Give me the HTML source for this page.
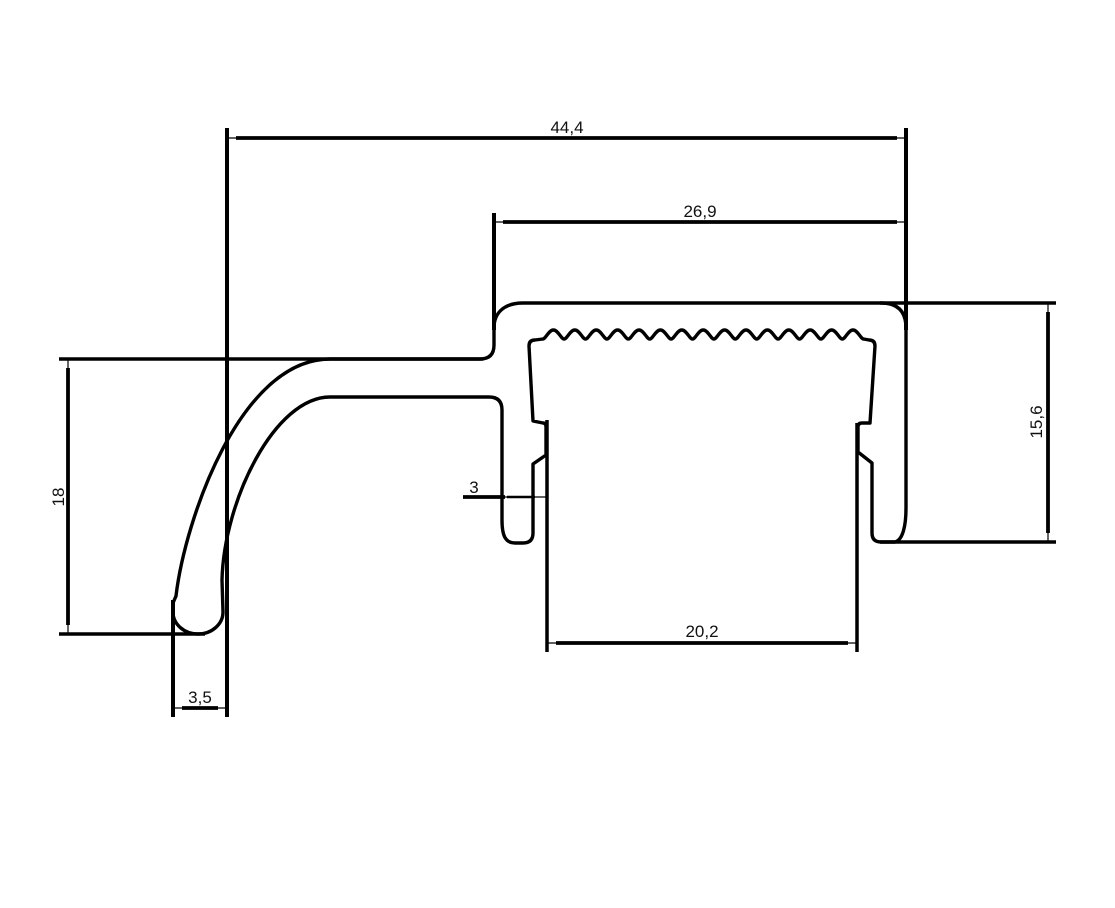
<!DOCTYPE html>
<html><head><meta charset="utf-8"><style>
html,body{margin:0;padding:0;background:#fff;}
svg{display:block;}
text{font-family:"Liberation Sans",Arial,sans-serif;font-size:17px;fill:#111;}
</style></head><body>
<svg width="1115" height="908" viewBox="0 0 1115 908" xmlns="http://www.w3.org/2000/svg">
<rect width="1115" height="908" fill="#fff"/>
<g stroke="#000" fill="none" stroke-linecap="butt">
<!-- extension lines -->
<line x1="227" y1="128" x2="227" y2="717" stroke-width="4"/>
<line x1="906" y1="128" x2="906" y2="330" stroke-width="4"/>
<line x1="494" y1="213" x2="494" y2="330" stroke-width="4"/>
<line x1="59" y1="359" x2="483" y2="359" stroke-width="3.5"/>
<line x1="59" y1="634" x2="205" y2="634" stroke-width="3.5"/>
<line x1="173" y1="600" x2="173" y2="717" stroke-width="4"/>
<line x1="880" y1="303" x2="1056" y2="303" stroke-width="3.5"/>
<line x1="880" y1="542" x2="1056" y2="542" stroke-width="3.5"/>
<line x1="547" y1="420" x2="547" y2="652" stroke-width="3.5"/>
<line x1="857" y1="423" x2="857" y2="652" stroke-width="3.5"/>
<!-- dimension lines -->
<line x1="227" y1="138" x2="906" y2="138" stroke-width="1.2"/>
<line x1="236" y1="138" x2="897" y2="138" stroke-width="3.8"/>
<line x1="494" y1="222" x2="906" y2="222" stroke-width="1.2"/>
<line x1="503" y1="222" x2="897" y2="222" stroke-width="3.8"/>
<line x1="68" y1="359" x2="68" y2="634" stroke-width="1.2"/>
<line x1="68" y1="368" x2="68" y2="625" stroke-width="3.8"/>
<line x1="1048" y1="303" x2="1048" y2="542" stroke-width="1.2"/>
<line x1="1048" y1="312" x2="1048" y2="533" stroke-width="3.8"/>
<line x1="547" y1="643" x2="857" y2="643" stroke-width="1.2"/>
<line x1="556" y1="643" x2="848" y2="643" stroke-width="3.8"/>
<line x1="173" y1="708" x2="227" y2="708" stroke-width="1.2"/>
<line x1="182" y1="708" x2="218" y2="708" stroke-width="3.8"/>
<line x1="463" y1="497" x2="546" y2="497" stroke-width="1.2"/>
<line x1="463" y1="497" x2="505" y2="497" stroke-width="3.8"/>
<line x1="507" y1="497" x2="535" y2="497" stroke-width="2.5"/>
<!-- profile -->
<path stroke-width="3.4" stroke-linejoin="round" d="
M 176 596
C 185 520 240 359 330 359
L 480 359
Q 494 359 494 345
L 494 328
C 494 312 505 303 523 303
L 881 303
Q 906 303 906 328
L 906 508
C 906 525 903 540 895 542
L 881 542
Q 872 542 872 533
L 872 463
L 858 452
L 858 427
Q 858 423 862 423
L 870 423
L 875 346
Q 875 340 869 340
L 863.7 339
c-3,0 -6,-9 -10.7,-9 s-7.7,9 -10.7,9
c-3,0 -6,-9 -10.7,-9 s-7.7,9 -10.7,9
c-3,0 -6,-9 -10.7,-9 s-7.7,9 -10.7,9
c-3,0 -6,-9 -10.7,-9 s-7.7,9 -10.7,9
c-3,0 -6,-9 -10.7,-9 s-7.7,9 -10.7,9
c-3,0 -6,-9 -10.7,-9 s-7.7,9 -10.7,9
c-3,0 -6,-9 -10.7,-9 s-7.7,9 -10.7,9
c-3,0 -6,-9 -10.7,-9 s-7.7,9 -10.7,9
c-3,0 -6,-9 -10.7,-9 s-7.7,9 -10.7,9
c-3,0 -6,-9 -10.7,-9 s-7.7,9 -10.7,9
c-3,0 -6,-9 -10.7,-9 s-7.7,9 -10.7,9
c-3,0 -6,-9 -10.7,-9 s-7.7,9 -10.7,9
c-3,0 -6,-9 -10.7,-9 s-7.7,9 -10.7,9
c-3,0 -6,-9 -10.7,-9 s-7.7,9 -10.7,9
c-3,0 -6,-9 -10.7,-9 s-7.7,9 -10.7,9
L 535 340
Q 529 340 529 346
L 533 421
L 543 423
Q 546 423 546 427
L 546 455
L 533 464
L 533 533
Q 533 543 523 543
L 515 543
C 505 543 502 535 502 520
L 502 410
Q 502 397 489 397
L 330 397
C 275 397 224 500 222 580
L 223 612
A 25 22 0 0 1 173 612
L 173 603
Z"/>
</g>
<!-- labels -->
<text x="567" y="133" text-anchor="middle">44,4</text>
<text x="700" y="217" text-anchor="middle">26,9</text>
<text x="702" y="637" text-anchor="middle">20,2</text>
<text x="474" y="493" text-anchor="middle">3</text>
<text x="200" y="703" text-anchor="middle">3,5</text>
<text transform="translate(64,497) rotate(-90)" text-anchor="middle">18</text>
<text transform="translate(1042,422) rotate(-90)" text-anchor="middle">15,6</text>
</svg>
</body></html>
